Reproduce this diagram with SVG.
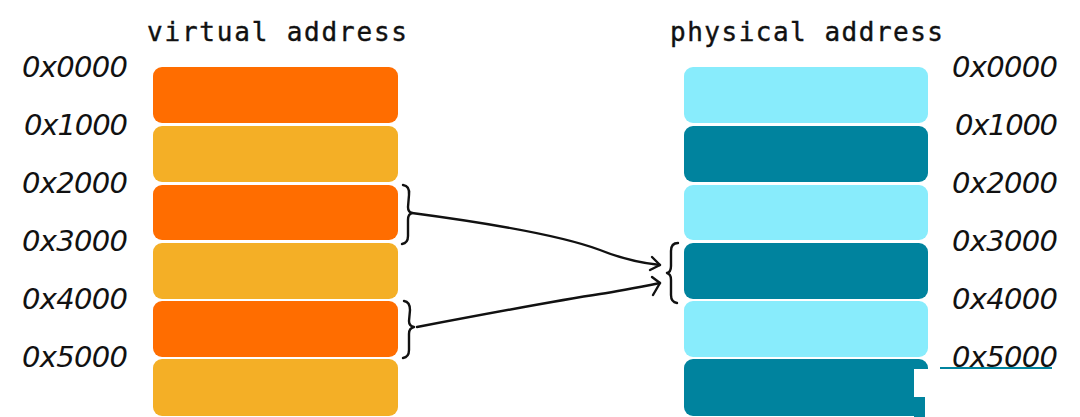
<svg xmlns="http://www.w3.org/2000/svg" width="1080" height="417" viewBox="0 0 1080 417">
<style>
.addr{font-family:"DejaVu Sans","Liberation Sans",sans-serif;font-style:italic;font-size:29px;fill:#111}
.title{font-family:"DejaVu Sans Mono","Liberation Mono",monospace;font-size:26px;fill:#111;stroke:#111;stroke-width:0.4}
.o{fill:#FF6D00}.y{fill:#F4AF26}.c{fill:#88ECFC}.t{fill:#00839E}
.ln{fill:none;stroke:#111;stroke-width:2.4;stroke-linecap:round;stroke-linejoin:round}
</style>
<rect width="1080" height="417" fill="#fff"/>
<g id="titles">
<text class="title" x="147" y="41" textLength="260" lengthAdjust="spacing">virtual address</text>
<text class="title" x="670" y="41" textLength="273" lengthAdjust="spacing">physical address</text>
</g>
<g id="virtual-memory">
<rect class="o" x="153" y="67" width="245" height="56" rx="9"/>
<rect class="y" x="153" y="126" width="245" height="56" rx="9"/>
<rect class="o" x="153" y="185" width="245" height="55" rx="9"/>
<rect class="y" x="153" y="243" width="245" height="56" rx="9"/>
<rect class="o" x="153" y="301" width="245" height="56" rx="9"/>
<rect class="y" x="153" y="359" width="245" height="57" rx="9"/>
</g>
<g id="physical-memory">
<rect class="c" x="684" y="67" width="244" height="56" rx="9"/>
<rect class="t" x="684" y="126" width="244" height="56" rx="9"/>
<rect class="c" x="684" y="185" width="244" height="55" rx="9"/>
<rect class="t" x="684" y="243" width="244" height="56" rx="9"/>
<rect class="c" x="684" y="301" width="244" height="56" rx="9"/>
<rect class="t" x="684" y="359" width="244" height="57" rx="9"/>
</g>
<g id="virtual-labels">
<text class="addr" x="22" y="77" textLength="106">0x0000</text>
<text class="addr" x="24" y="135" textLength="104">0x1000</text>
<text class="addr" x="22" y="193" textLength="106">0x2000</text>
<text class="addr" x="22" y="251" textLength="106">0x3000</text>
<text class="addr" x="22" y="309" textLength="106">0x4000</text>
<text class="addr" x="22" y="367" textLength="106">0x5000</text>
</g>
<g id="physical-labels">
<text class="addr" x="952" y="77" textLength="106">0x0000</text>
<text class="addr" x="955" y="135" textLength="103">0x1000</text>
<text class="addr" x="952" y="193" textLength="106">0x2000</text>
<text class="addr" x="952" y="251" textLength="106">0x3000</text>
<text class="addr" x="952" y="309" textLength="106">0x4000</text>
<text class="addr" x="952" y="367" textLength="106">0x5000</text>
</g>
<g id="overlay">
<rect x="914" y="369" width="166" height="48" fill="#fff"/>
<rect x="914" y="397" width="11" height="20" fill="#00839E"/>
<rect x="940" y="367" width="112" height="2" fill="#00839E"/>
</g>
<g id="connectors">
<path class="ln" d="M403,185 Q410,186 409,195 L408,207 Q408,212 412,213 Q408,214 408,220 L408,236 Q408,243 402,244"/>
<path class="ln" d="M404,301 Q410,302 410,310 L409,321 Q409,326 414,327 Q409,328 409,334 L409,350 Q409,357 403,358"/>
<path class="ln" d="M678,243 Q671,243 671,251 L671,266 Q671,272 667,273 Q671,274 671,280 L671,295 Q671,302 677,303"/>
<path class="ln" d="M412,213 C480,222 560,235 600,250 C620,258 640,263 660,265"/>
<path class="ln" d="M652,257 L660,265 L650,270"/>
<path class="ln" d="M417,327 C480,315 560,300 600,294 C620,291 640,287 660,283"/>
<path class="ln" d="M652,277 L660,283 L653,295"/>
</g>
</svg>
